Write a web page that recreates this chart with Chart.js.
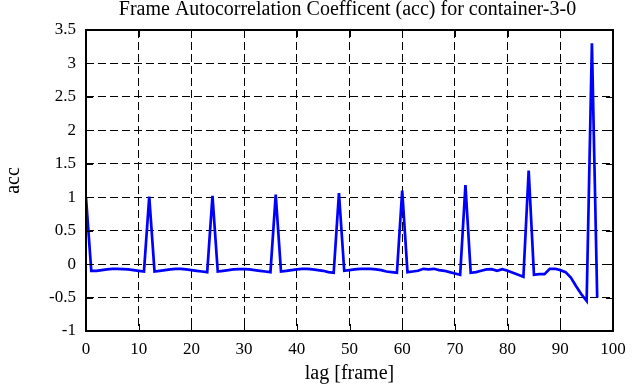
<!DOCTYPE html>
<html><head><meta charset="utf-8">
<script src="https://cdn.jsdelivr.net/npm/chart.js@4/dist/chart.umd.min.js"></script>
<style>html,body{margin:0;padding:0;background:#fff;}canvas{display:block}</style>
</head><body>
<canvas id="c" width="641" height="387"></canvas>
<script>
const titleText = 'Frame Autocorrelation Coefficent (acc) for container-3-0';
const xLabel = 'lag [frame]';
const yLabel = 'acc';
const lags = [0,1,2,3,4,5,6,7,8,9,10,11,12,13,14,15,16,17,18,19,20,21,22,23,24,25,26,27,28,29,30,31,32,33,34,35,36,37,38,39,40,41,42,43,44,45,46,47,48,49,50,51,52,53,54,55,56,57,58,59,60,61,62,63,64,65,66,67,68,69,70,71,72,73,74,75,76,77,78,79,80,81,82,83,84,85,86,87,88,89,90,91,92,93,94,95,96,97];
const acc = [1.0,-0.10,-0.10,-0.09,-0.08,-0.07,-0.07,-0.075,-0.08,-0.09,-0.10,-0.11,
 1.01,-0.11,-0.10,-0.09,-0.08,-0.07,-0.07,-0.08,-0.09,-0.10,-0.11,-0.12,
 1.02,-0.11,-0.10,-0.09,-0.08,-0.075,-0.075,-0.08,-0.09,-0.10,-0.11,-0.12,
 1.04,-0.11,-0.10,-0.09,-0.08,-0.07,-0.07,-0.08,-0.09,-0.10,-0.12,-0.13,
 1.06,-0.10,-0.09,-0.08,-0.07,-0.07,-0.07,-0.08,-0.09,-0.11,-0.12,-0.13,
 1.10,-0.12,-0.11,-0.10,-0.07,-0.08,-0.07,-0.09,-0.10,-0.12,-0.14,-0.16,
 1.18,-0.13,-0.12,-0.10,-0.08,-0.075,-0.10,-0.075,-0.10,-0.13,-0.16,-0.19,
 1.40,-0.16,-0.15,-0.15,-0.07,-0.07,-0.09,-0.12,-0.20,-0.33,-0.45,-0.55,
 3.30,-0.50];
const xTicks = [0,10,20,30,40,50,60,70,80,90,100];
const yTicks = [-1,-0.5,0,0.5,1,1.5,2,2.5,3,3.5];

const FONT = "'Liberation Serif','Times New Roman',serif";

const framePlugin = {
  id: 'frame',
  afterDraw(chart) {
    const {ctx, chartArea: a, scales} = chart;
    ctx.save();
    ctx.strokeStyle = '#000';
    ctx.lineWidth = 1;
    ctx.setLineDash([]);
    const L = 7;
    ctx.beginPath();
    xTicks.forEach(v => {
      const x = Math.round(scales.x.getPixelForValue(v)) + 0.5;
      ctx.moveTo(x, a.bottom); ctx.lineTo(x, a.bottom - L);
      ctx.moveTo(x, a.top); ctx.lineTo(x, a.top + L);
    });
    yTicks.forEach(v => {
      const y = Math.round(scales.y.getPixelForValue(v)) + 0.5;
      ctx.moveTo(a.left, y); ctx.lineTo(a.left + L, y);
      ctx.moveTo(a.right, y); ctx.lineTo(a.right - L, y);
    });
    ctx.stroke();
    ctx.lineWidth = 2;
    ctx.strokeRect(a.left, a.top, a.right - a.left, a.bottom - a.top);
    ctx.fillStyle = '#000';
    ctx.font = '20px ' + FONT;
    ctx.textAlign = 'center';
    ctx.textBaseline = 'alphabetic';
    ctx.fillText(titleText, (a.left + a.right) / 2 - 2, 15);
    ctx.restore();
  }
};

new Chart(document.getElementById('c'), {
  type: 'line',
  data: {
    datasets: [{
      data: lags.map((l, i) => ({x: l, y: acc[i]})),
      borderColor: '#0000ff',
      borderWidth: 2.7,
      pointRadius: 0,
      tension: 0,
      fill: false
    }]
  },
  options: {
    responsive: false,
    devicePixelRatio: 1,
    animation: false,
    layout: {padding: {top: 30, right: 28, left: 0, bottom: 0}},
    plugins: {legend: {display: false}, tooltip: {enabled: false}, title: {display: false}},
    scales: {
      x: {
        type: 'linear', min: 0, max: 100,
        afterBuildTicks: s => { s.ticks = xTicks.map(v => ({value: v})); },
        afterFit: s => { s.height = 56; },
        grid: {color: '#000', lineWidth: 1, drawTicks: false},
        border: {display: false, dash: [8, 4]},
        ticks: {color: '#000', font: {family: FONT, size: 17}, padding: 8, maxRotation: 0, autoSkip: false,
                callback: v => String(v)},
        title: {display: true, text: xLabel, color: '#000', font: {family: FONT, size: 20}, padding: {top: 0, bottom: 1}}
      },
      y: {
        type: 'linear', min: -1, max: 3.5,
        afterBuildTicks: s => { s.ticks = yTicks.map(v => ({value: v})); },
        afterFit: s => { s.width = 86; },
        grid: {color: '#000', lineWidth: 1, drawTicks: false},
        border: {display: false, dash: [8, 4]},
        ticks: {color: '#000', font: {family: FONT, size: 17}, padding: 10, autoSkip: false,
                callback: v => String(v)},
        title: {display: true, text: yLabel, color: '#000', font: {family: FONT, size: 20}, padding: {top: 2, bottom: 0}}
      }
    }
  },
  plugins: [framePlugin]
});
</script>
</body></html>
